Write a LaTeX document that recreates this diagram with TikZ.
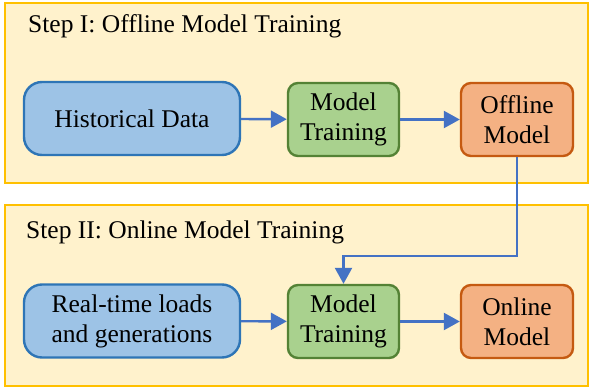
\documentclass[tikz,border=0pt]{standalone}
\usepackage{fontspec}
\setmainfont{Liberation Serif}
\usetikzlibrary{arrows.meta}
\definecolor{panelfill}{HTML}{FFF2CC}
\definecolor{paneldraw}{HTML}{FFC000}
\definecolor{bluefill}{HTML}{9DC3E6}
\definecolor{bluedraw}{HTML}{2E75B6}
\definecolor{greenfill}{HTML}{A9D18E}
\definecolor{greendraw}{HTML}{548235}
\definecolor{orangefill}{HTML}{F4B183}
\definecolor{orangedraw}{HTML}{C55A11}
\definecolor{arrowcol}{HTML}{4472C4}
\begin{document}
\begin{tikzpicture}[x=1pt,y=-1pt,
  every node/.style={font=\fontsize{25.5}{30}\selectfont, inner sep=0pt},
  panel/.style={draw=paneldraw, fill=panelfill, line width=2.4pt},
  databox/.style={draw=bluedraw, fill=bluefill, line width=2.4pt, rounded corners=18pt, minimum width=216pt, minimum height=73pt, align=center},
  trainbox/.style={draw=greendraw, fill=greenfill, line width=2.4pt, rounded corners=10pt, minimum width=111pt, minimum height=73pt, align=center},
  modelbox/.style={draw=orangedraw, fill=orangefill, line width=2.4pt, rounded corners=10pt, minimum width=112pt, minimum height=73pt, align=center},
  flow/.style={draw=arrowcol, line width=2.4pt, -{Triangle[length=16pt,width=17pt]}},
  title/.style={anchor=base west}
]
\useasboundingbox (0,0) rectangle (589,390);
% panels
\node[panel, minimum width=583pt, minimum height=180pt] (p1) at (296.5,93) {};
\node[panel, minimum width=583pt, minimum height=181pt] (p2) at (296.5,295.5) {};
\node[title] (t1) at (28,33) {Step I: Offline Model Training};
\node[title] (t2) at (26,239) {Step II: Online Model Training};
% row 1
\node[databox] (hist) at (132,118.5) {Historical Data};
\node[trainbox] (mt1) at (343.5,119.5) {Model\\Training};
\node[modelbox] (off) at (517,119.5) {Offline\\Model};
% row 2
\node[databox] (rt) at (132,321) {Real-time loads\\and generations};
\node[trainbox] (mt2) at (343.5,321.5) {Model\\Training};
\node[modelbox] (on) at (517,321.5) {Online\\Model};
% connectors
\draw[flow] (hist) -- (mt1);
\draw[flow] (mt1) -- (off);
\draw[flow] (rt) -- (mt2);
\draw[flow] (mt2) -- (on);
\coordinate (bend) at (517,256);
\draw[flow] (off.south) -- (bend) -| (mt2.north);
\end{tikzpicture}
\end{document}
